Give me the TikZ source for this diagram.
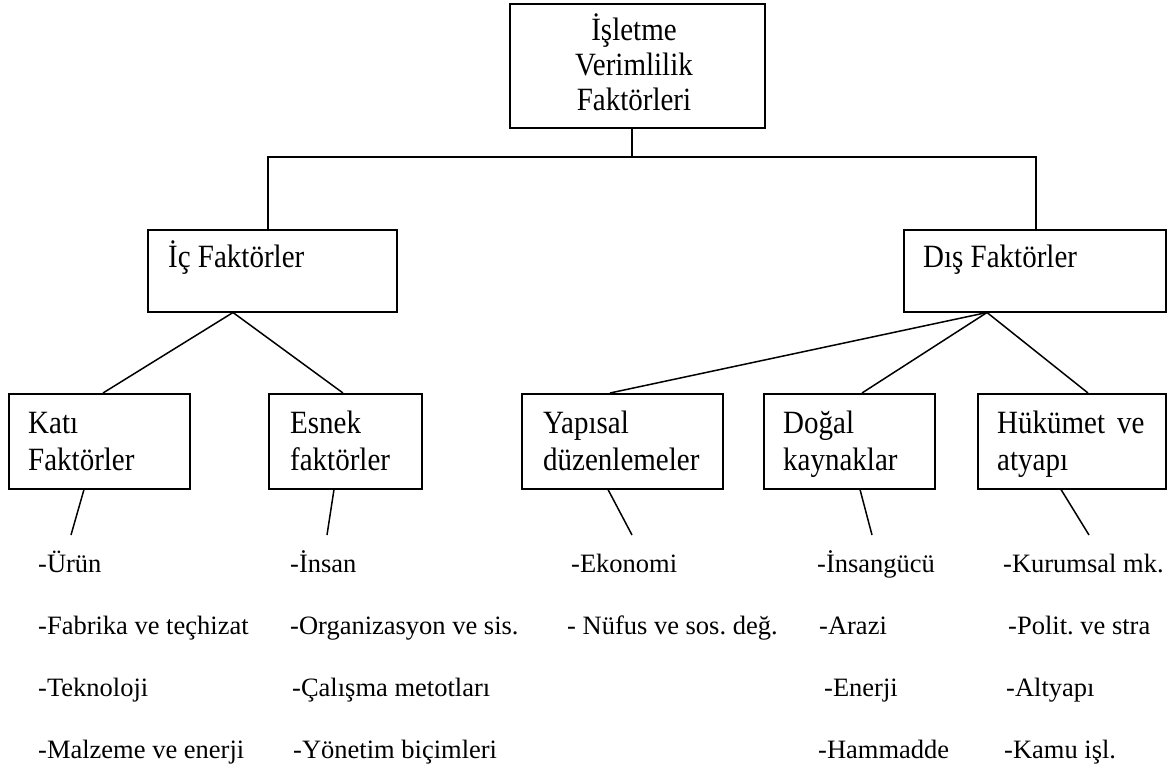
\documentclass[tikz,border=0pt]{standalone}
\usepackage{fontspec}
\setmainfont{Liberation Serif}
\usetikzlibrary{calc}
\frenchspacing
\newcommand{\tallbox}[1]{\scalebox{1}[1.12]{#1}}
\tikzset{
  box/.style={draw, line width=1.5pt, inner sep=0pt, anchor=north west, rectangle},
  btext/.style={inner sep=0pt, anchor=base west, font=\fontsize{29}{35}\selectfont},
  ctext/.style={inner sep=0pt, anchor=base, font=\fontsize{29}{35}\selectfont},
  ltext/.style={inner sep=0pt, anchor=base west, font=\fontsize{26.5}{30}\selectfont\frenchspacing},
  conn/.style={line width=1.5pt}
}
\begin{document}
\begin{tikzpicture}[x=1pt,y=-1pt]
\useasboundingbox (0,0) rectangle (1176,769);
% boxes
\node[box, minimum width=255pt, minimum height=124pt] (top) at (509,3) {};
\node[box, minimum width=249pt, minimum height=82pt] (ic) at (147,229) {};
\node[box, minimum width=262pt, minimum height=82pt] (dis) at (903,229) {};
\node[box, minimum width=181pt, minimum height=95pt] (kati) at (8,393) {};
\node[box, minimum width=153pt, minimum height=95pt] (esnek) at (268,393) {};
\node[box, minimum width=201pt, minimum height=95pt] (yapisal) at (521,393) {};
\node[box, minimum width=171pt, minimum height=95pt] (dogal) at (763,393) {};
\node[box, minimum width=188pt, minimum height=95pt] (hukumet) at (977,393) {};
% box texts
\node[ctext] (t1) at (634,40) {\tallbox{İşletme}};
\node[ctext] (t2) at (634,75) {\tallbox{Verimlilik}};
\node[ctext] (t3) at (634,110) {\tallbox{Faktörleri}};
\node[btext] (ict) at (168,267) {\tallbox{İç Faktörler}};
\node[btext] (dist) at (923,267) {\tallbox{Dış Faktörler}};
\node[btext] (k1) at (28,433) {\tallbox{Katı}};
\node[btext] (k2) at (28,470) {\tallbox{Faktörler}};
\node[btext] (e1) at (290,433) {\tallbox{Esnek}};
\node[btext] (e2) at (290,470) {\tallbox{faktörler}};
\node[btext] (y1) at (543,433) {\tallbox{Yapısal}};
\node[btext] (y2) at (543,470) {\tallbox{düzenlemeler}};
\node[btext] (d1) at (783,433) {\tallbox{Doğal}};
\node[btext] (d2) at (783,470) {\tallbox{kaynaklar}};
\node[btext] (h1) at (997,433) {\tallbox{Hükümet\hskip 12pt ve}};
\node[btext] (h2) at (997,470) {\tallbox{atyapı}};
% connectors top
\coordinate (hm) at (632,157);
\coordinate (hl) at (268,157);
\coordinate (hr) at (1036,157);
\draw[conn] (hm |- top.south) -- (hm);
\draw[conn] (hl |- ic.north) -- (hl) -- (hr) -- (hr |- dis.north);
% connectors second level
\coordinate (ica) at ($(ic.south west)+(86,0)$);
\coordinate (disa) at ($(dis.south west)+(84,0)$);
\draw[conn] (ica) -- ($(kati.north west)+(95,0)$);
\draw[conn] (ica) -- ($(esnek.north west)+(75,0)$);
\draw[conn] (disa) -- ($(yapisal.north west)+(89,0)$);
\draw[conn] (disa) -- ($(dogal.north west)+(99,0)$);
\draw[conn] (disa) -- ($(hukumet.north west)+(111,0)$);
% lower connectors
\coordinate (kb) at (71,535);
\coordinate (eb) at (327,535);
\coordinate (yb) at (632,535);
\coordinate (db) at (872,535);
\coordinate (hb) at (1089,535);
\draw[conn] ($(kati.south west)+(76,0)$) -- (kb);
\draw[conn] ($(esnek.south west)+(66,0)$) -- (eb);
\draw[conn] ($(yapisal.south west)+(87,0)$) -- (yb);
\draw[conn] ($(dogal.south west)+(97,0)$) -- (db);
\draw[conn] ($(hukumet.south west)+(84,0)$) -- (hb);
% lists
\node[ltext] (a1) at (38,572) {-Ürün};
\node[ltext] (a2) at (38,634) {-Fabrika ve teçhizat};
\node[ltext] (a3) at (38,696) {-Teknoloji};
\node[ltext] (a4) at (38,758) {-Malzeme ve enerji};
\node[ltext] (b1) at (290,572) {-İnsan};
\node[ltext] (b2) at (290,634) {-Organizasyon ve sis.};
\node[ltext] (b3) at (292,696) {-Çalışma metotları};
\node[ltext] (b4) at (293,758) {-Yönetim biçimleri};
\node[ltext] (c1) at (571,572) {-Ekonomi};
\node[ltext] (c2) at (567,634) {- Nüfus ve sos. değ.};
\node[ltext] (d1l) at (817,572) {-İnsangücü};
\node[ltext] (d2l) at (819,634) {-Arazi};
\node[ltext] (d3l) at (824,696) {-Enerji};
\node[ltext] (d4l) at (818,758) {-Hammadde};
\node[ltext] (e1l) at (1003,572) {-Kurumsal mk.};
\node[ltext] (e2l) at (1008,634) {-Polit. ve stra};
\node[ltext] (e3l) at (1006,696) {-Altyapı};
\node[ltext] (e4l) at (1004,758) {-Kamu işl.};
\end{tikzpicture}
\end{document}
